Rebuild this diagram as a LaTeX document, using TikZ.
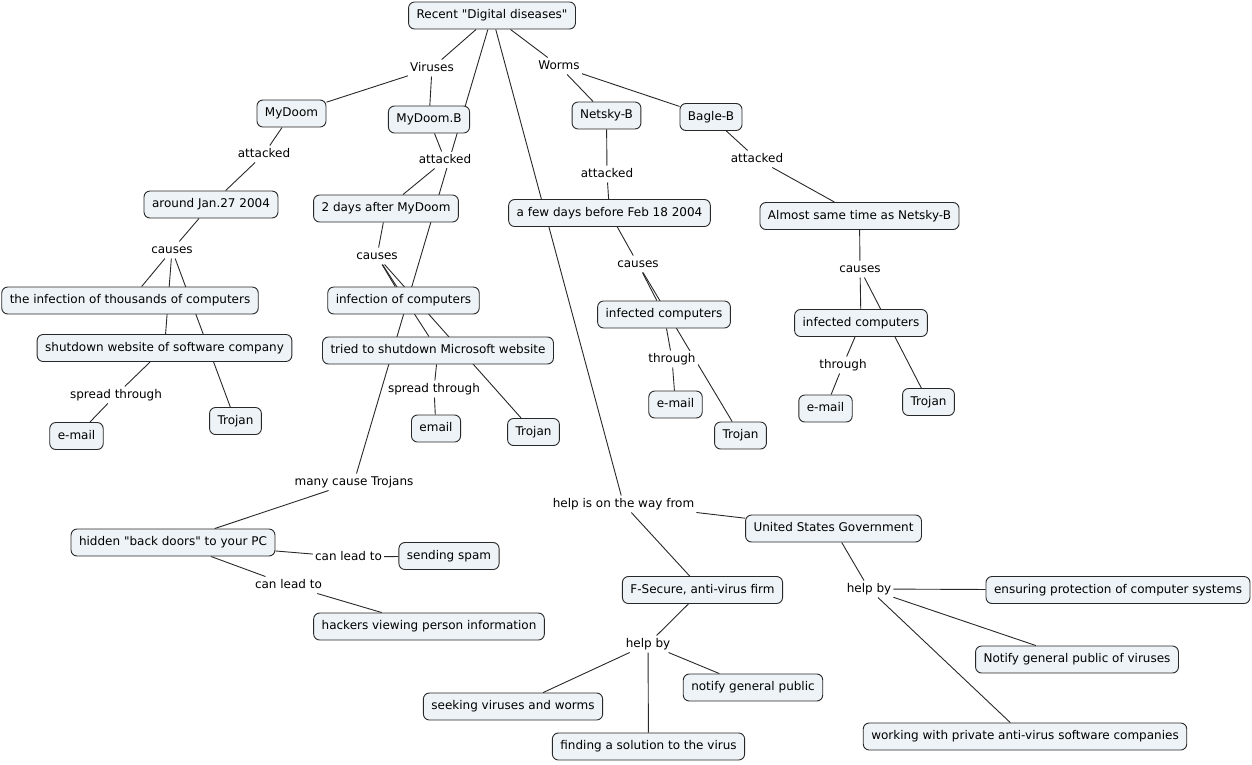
\documentclass[tikz,border=0pt]{standalone}
\usepackage{fontspec}
\newfontfamily\dejavu{DejaVu Sans}
\pgfdeclarelayer{edges}
\pgfsetlayers{edges,main}
\definecolor{cfill}{RGB}{237,243,246}
\definecolor{cline}{RGB}{40,40,40}
\tikzset{
  concept/.style={draw=cline, fill=cfill, rounded corners=6pt, line width=0.9pt,
    inner xsep=8pt, inner ysep=2pt, minimum height=27pt,
    text height=9pt, text depth=2.6pt, font=\dejavu\fontsize{12pt}{14pt}\selectfont},
  linkph/.style={fill=white, inner xsep=2pt, inner ysep=2.5pt,
    text height=9pt, text depth=2.6pt, font=\dejavu\fontsize{12pt}{14pt}\selectfont},
  conn/.style={draw=cline, line width=0.9pt}
}
\begin{document}
\begin{tikzpicture}[x=1pt,y=-1pt]
\useasboundingbox (0,0) rectangle (1252,764);
% concepts
\node[concept] (rec) at (492,15.5) {Recent "Digital diseases"};
\node[concept] (mydoom) at (291.5,113.5) {MyDoom};
\node[concept] (mydoomb) at (429,119.5) {MyDoom.B};
\node[concept] (netsky) at (606.5,115.5) {Netsky-B};
\node[concept] (bagle) at (711,117) {Bagle-B};
\node[concept] (jan) at (211,204.5) {around Jan.27 2004};
\node[concept] (twodays) at (386,208.5) {2 days after MyDoom};
\node[concept] (fewdays) at (609.5,213) {a few days before Feb 18 2004};
\node[concept] (almost) at (859.5,216) {Almost same time as Netsky-B};
\node[concept] (thous) at (130,300.5) {the infection of thousands of computers};
\node[concept] (infc) at (403.5,300.5) {infection of computers};
\node[concept] (shut) at (164.5,348) {shutdown website of software company};
\node[concept] (tried) at (438,350.5) {tried to shutdown Microsoft website};
\node[concept] (inf3) at (664,314.5) {infected computers};
\node[concept] (inf4) at (861,323) {infected computers};
\node[concept] (em1) at (76.5,436) {e-mail};
\node[concept] (troj1) at (235.5,421) {Trojan};
\node[concept] (em2) at (436,428.5) {email};
\node[concept] (troj2) at (533.5,432) {Trojan};
\node[concept] (em3) at (675.5,404.5) {e-mail};
\node[concept] (troj3) at (740.5,435.5) {Trojan};
\node[concept] (em4) at (825.5,408.5) {e-mail};
\node[concept] (troj4) at (928.5,402) {Trojan};
\node[concept] (hidden) at (173,542.5) {hidden "back doors" to your PC};
\node[concept] (spam) at (449,556) {sending spam};
\node[concept] (hack) at (429,626.5) {hackers viewing person information};
\node[concept] (usg) at (833.5,528.5) {United States Government};
\node[concept] (fsec) at (702.5,590) {F-Secure, anti-virus firm};
\node[concept] (ens) at (1118,590) {ensuring protection of computer systems};
\node[concept] (notv) at (1077,659.5) {Notify general public of viruses};
\node[concept] (work) at (1025,736.5) {working with private anti-virus software companies};
\node[concept] (seek) at (513,706.5) {seeking viruses and worms};
\node[concept] (find) at (648.5,746.5) {finding a solution to the virus};
\node[concept] (notp) at (753,687.5) {notify general public};
% linking phrases
\node[linkph] (vir) at (432,68) {Viruses};
\node[linkph] (worm) at (559,66) {Worms};
\node[linkph] (att1) at (264,154) {attacked};
\node[linkph] (att2) at (445,160) {attacked};
\node[linkph] (att3) at (607,174) {attacked};
\node[linkph] (att4) at (757,159) {attacked};
\node[linkph] (cau1) at (172,250) {causes};
\node[linkph] (cau2) at (377,256) {causes};
\node[linkph] (cau3) at (638,264) {causes};
\node[linkph] (cau4) at (860,269) {causes};
\node[linkph] (spr1) at (116,395) {spread through};
\node[linkph] (spr2) at (434,389) {spread through};
\node[linkph] (thr3) at (672,359) {through};
\node[linkph] (thr4) at (843,365) {through};
\node[linkph] (many) at (354,482) {many cause Trojans};
\node[linkph] (help) at (623.5,504) {help is on the way from};
\node[linkph] (lead1) at (348.5,557) {can lead to};
\node[linkph] (lead2) at (288.5,585) {can lead to};
\node[linkph] (hb1) at (648,644) {help by};
\node[linkph] (hb2) at (869,589) {help by};
% connectors
\begin{pgfonlayer}{edges}
\foreach \a/\b in {rec/vir, vir/mydoom, vir/mydoomb, rec/worm, worm/netsky, worm/bagle,
  rec/many, rec/help,
  mydoom/att1, att1/jan, mydoomb/att2, att2/twodays, netsky/att3, att3/fewdays,
  bagle/att4, att4/almost,
  jan/cau1, cau1/thous, cau1/shut, cau1/troj1, shut/spr1, spr1/em1,
  twodays/cau2, cau2/infc, cau2/tried, cau2/troj2, tried/spr2, spr2/em2,
  fewdays/cau3, cau3/inf3, cau3/troj3, inf3/thr3, thr3/em3,
  almost/cau4, cau4/inf4, cau4/troj4, inf4/thr4, thr4/em4,
  many/hidden, hidden/lead1, lead1/spam, hidden/lead2, lead2/hack,
  help/fsec, help/usg, fsec/hb1, hb1/seek, hb1/find, hb1/notp,
  usg/hb2, hb2/ens, hb2/notv, hb2/work}
  \draw[conn] (\a) -- (\b);
\end{pgfonlayer}
\end{tikzpicture}
\end{document}
